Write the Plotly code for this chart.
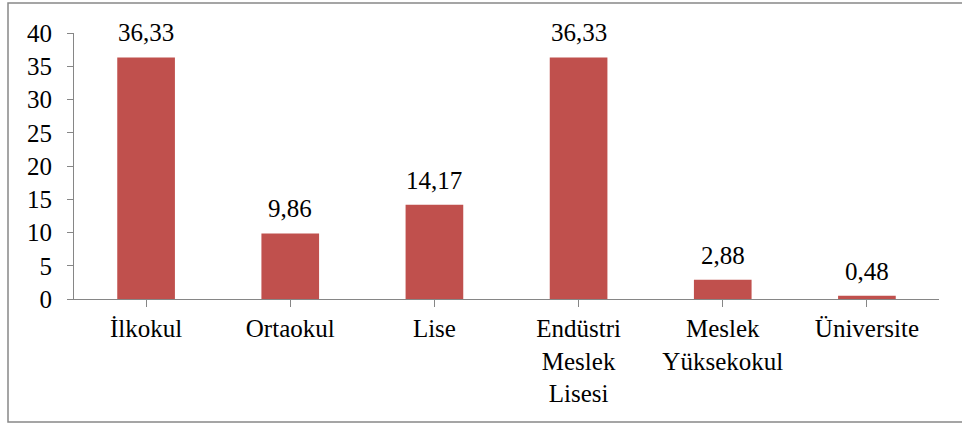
import plotly.graph_objects as go

categories = ["İlkokul", "Ortaokul", "Lise", "Endüstri<br>Meslek<br>Lisesi", "Meslek<br>Yüksekokul", "Üniversite"]
values = [36.33, 9.86, 14.17, 36.33, 2.88, 0.48]
y_ticks = [0, 5, 10, 15, 20, 25, 30, 35, 40]

FONT = "Liberation Serif"
AXIS = "#868686"
W, H = 962, 423
L, R, T, B = 74, 23, 33, 124
FS = 25

fig = go.Figure()
fig.add_trace(go.Bar(x=list(range(len(categories))), y=values, marker_color="#C0504D",
                     marker_line_width=0, hoverinfo="skip"))

for i, v in enumerate(values):
    fig.add_annotation(x=i, y=v, text=f"{v:.2f}".replace(".", ","), showarrow=False,
                       yanchor="bottom", yshift=9, font=dict(family=FONT, size=FS, color="black"))

pw = W - L - R
ph = H - T - B
def px_x(p):
    return (p - L) / pw
def px_y(p):
    return (H - B - p) / ph

fig.add_shape(type="rect", xref="paper", yref="paper",
              x0=px_x(8), x1=px_x(975), y0=px_y(422), y1=px_y(3),
              line=dict(color="#888888", width=1.5), layer="below")

fig.update_layout(
    width=W, height=H, margin=dict(l=L, r=R, t=T, b=B),
    plot_bgcolor="white", paper_bgcolor="white",
    bargap=0.6, showlegend=False,
    font=dict(family=FONT, size=FS, color="black"),
    xaxis=dict(tickmode="array", tickvals=list(range(len(categories))), ticktext=categories,
               range=[-0.5, len(categories) - 0.5], tickson="boundaries",
               ticks="outside", ticklen=7, tickcolor=AXIS, showline=True, linecolor=AXIS,
               linewidth=1, showgrid=False, zeroline=False,
               tickfont=dict(family=FONT, size=FS, color="black")),
    yaxis=dict(range=[0, 40], tickvals=y_ticks, ticks="outside", ticklen=6, tickcolor=AXIS,
               showline=True, linecolor=AXIS, linewidth=1, showgrid=False, zeroline=False,
               ticklabelstandoff=10, tickfont=dict(family=FONT, size=FS, color="black")),
)

fig.write_html("out.html", config={"displayModeBar": False},
               post_script="document.body.style.margin='0';")
